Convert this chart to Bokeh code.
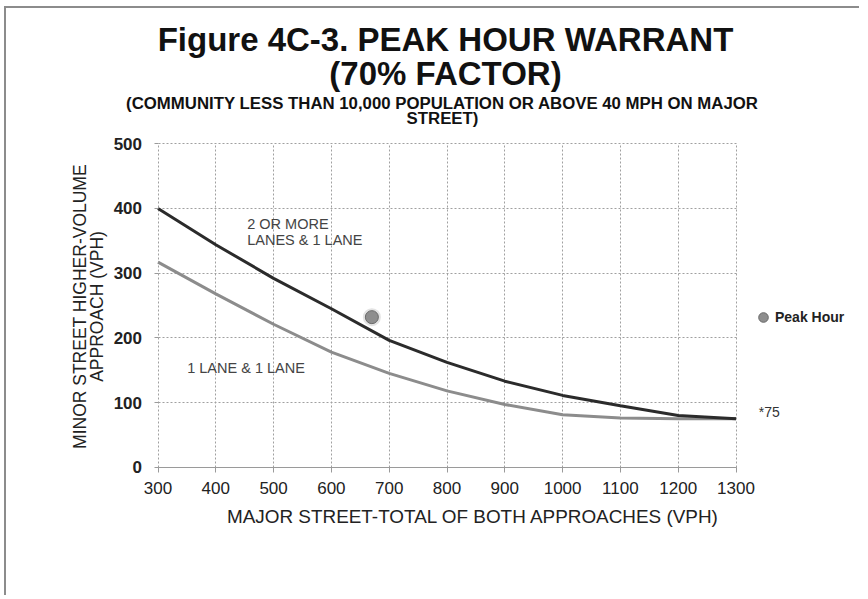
import math
from bokeh.plotting import figure
from bokeh.models import Range1d, Label, Legend, LegendItem, FixedTicker
from bokeh.embed import file_html
from bokeh.resources import INLINE

# ---------------- data ----------------
major_vph = [300, 400, 500, 600, 700, 800, 900, 1000, 1100, 1200, 1300]
two_or_more_lanes = [400, 344, 292, 245, 196, 162, 133, 111, 95, 80, 75]
one_lane = [317, 268, 221, 178, 145, 118, 97, 81, 76, 75, 75]
peak_major = [670]
peak_minor = [232]
x_ticks = [300, 400, 500, 600, 700, 800, 900, 1000, 1100, 1200, 1300]
y_ticks = [0, 100, 200, 300, 400, 500]
x_bounds = (300, 1300)
y_bounds = (0, 500)

title_lines = ["Figure 4C-3. PEAK HOUR WARRANT", "(70% FACTOR)"]
subtitle_lines = ["(COMMUNITY LESS THAN 10,000 POPULATION OR ABOVE 40 MPH ON MAJOR", "STREET)"]
y_label_lines = ["MINOR STREET HIGHER-VOLUME", "APPROACH (VPH)"]
x_label = "MAJOR STREET-TOTAL OF BOTH APPROACHES (VPH)"

# ---------------- layout (page pixels) ----------------
W, H = 855, 589
MARGIN_L, MARGIN_T, BORDER = 4, 6, 2
X0, Y0 = MARGIN_L + BORDER, MARGIN_T + BORDER      # canvas origin on page
ML, MB = 60, 48                                     # axis panels
FL, FR = X0 + ML, X0 + W                            # frame left/right on page
FT, FB = Y0, Y0 + H - MB                            # frame top/bottom on page
CL, CR, CT, CB = 157.5, 735.5, 143.3, 466.7         # chart area on page

kx = (CR - CL) / (x_bounds[1] - x_bounds[0])
ky = (CB - CT) / (y_bounds[1] - y_bounds[0])
x_range = Range1d(x_bounds[0] - (CL - FL) / kx, x_bounds[1] + (FR - CR) / kx)
y_range = Range1d(y_bounds[0] - (FB - CB) / ky, y_bounds[1] + (CT - FT) / ky)


def sx(px):
    return px - FL


def sy(py):
    return FB - py


FONT = "Liberation Sans"

p = figure(width=W, height=H, x_range=x_range, y_range=y_range,
           output_backend="svg", toolbar_location=None, title_location=None,
           min_border_left=ML, min_border_right=0, min_border_top=0, min_border_bottom=MB)
p.outline_line_color = None
p.background_fill_color = "white"
p.border_fill_color = "white"
p.styles = {"border-top": "2px solid #8c8c8c", "border-left": "2px solid #8c8c8c",
            "margin-left": f"{MARGIN_L}px", "margin-top": f"{MARGIN_T}px"}

# axes
p.xaxis.fixed_location = y_bounds[0]
p.yaxis.fixed_location = x_bounds[0]
p.xaxis.bounds = x_bounds
p.yaxis.bounds = y_bounds
p.xaxis.ticker = FixedTicker(ticks=x_ticks)
p.yaxis.ticker = FixedTicker(ticks=y_ticks)
p.xgrid.ticker = FixedTicker(ticks=x_ticks)
p.ygrid.ticker = FixedTicker(ticks=y_ticks)
p.xgrid.bounds = x_bounds
p.xgrid.cross_bounds = y_bounds
p.ygrid.bounds = y_bounds
p.ygrid.cross_bounds = x_bounds
for g in (p.xgrid, p.ygrid):
    g.grid_line_color = "#a0a0a0"
    g.grid_line_dash = "2 2"
    g.grid_line_width = 1

p.xaxis.axis_line_color = "#9a9a9a"
p.xaxis.major_tick_line_color = "#9a9a9a"
p.xaxis.major_tick_out = 5
p.xaxis.major_tick_in = 0
p.xaxis.minor_tick_line_color = None
p.xaxis.major_label_standoff = 10
p.xaxis.major_label_text_font = FONT
p.xaxis.major_label_text_font_size = "17px"
p.xaxis.major_label_text_color = "#222222"

p.yaxis.axis_line_color = None
p.yaxis.major_tick_line_color = "#9a9a9a"
p.yaxis.major_tick_out = 4
p.yaxis.major_tick_in = 0
p.yaxis.minor_tick_line_color = None
p.yaxis.major_label_standoff = 12
p.yaxis.major_label_text_font = FONT
p.yaxis.major_label_text_font_size = "17px"
p.yaxis.major_label_text_font_style = "bold"
p.yaxis.major_label_text_color = "#222222"

# curves
p.line(major_vph, one_lane, line_color="#8c8c8c", line_width=3)
p.line(major_vph, two_or_more_lanes, line_color="#2b2b2b", line_width=3)

# peak hour point
p.scatter(peak_major, peak_minor, size=18, marker="circle", fill_color="#c8c8c8",
          fill_alpha=0.5, line_color=None)
peak = p.scatter(peak_major, peak_minor, size=13, marker="circle", fill_color="#8e8e8e",
                 line_color="#6a6a6a", line_width=1)

legend = Legend(items=[LegendItem(label="Peak Hour", renderers=[peak])],
                location=(sx(751), sy(328.7)), glyph_width=24, glyph_height=24,
                label_standoff=0, padding=0, margin=0, spacing=0,
                border_line_color=None, background_fill_alpha=0,
                label_text_font=FONT, label_text_font_size="14px",
                label_text_font_style="bold", label_text_color="#222222")
p.add_layout(legend)


def lab(text, px, py, size, style="normal", align="left", color="#111111", angle=0.0):
    """py is the vertical centre of the capitals on the page."""
    p.add_layout(Label(x=sx(px), y=sy(py), x_units="screen", y_units="screen",
                       text=text, text_font=FONT, text_font_size=size,
                       text_font_style=style, text_align=align,
                       text_baseline="middle", text_color=color, angle=angle))


# titles
lab(title_lines[0], 445, 39, "33px", "bold", "center")
lab(title_lines[1], 445, 72.5, "33px", "bold", "center")
lab(subtitle_lines[0], 442, 102.5, "16.8px", "bold", "center")
lab(subtitle_lines[1], 442, 118, "16.8px", "bold", "center")

# axis titles
lab(y_label_lines[0], 79, 306, "17.5px", "normal", "center", "#222222", math.pi / 2)
lab(y_label_lines[1], 96, 306, "17.5px", "normal", "center", "#222222", math.pi / 2)
lab(x_label, 226.5, 515.5, "18.9px", "normal", "left", "#222222")

# in-plot annotations
lab("2 OR MORE", 246.7, 223.3, "14.5px", color="#444444")
lab("LANES & 1 LANE", 246.7, 239.3, "14.5px", color="#444444")
lab("1 LANE & 1 LANE", 186.7, 367.2, "14.5px", color="#444444")
lab("*75", 758.3, 411, "14px", color="#333333")

open("out.html", "w").write(file_html(p, INLINE))
